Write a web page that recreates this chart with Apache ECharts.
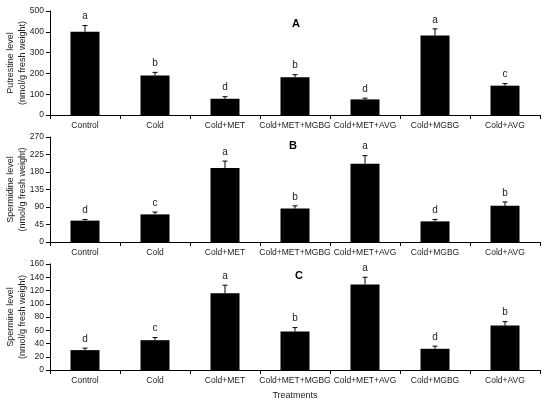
<!DOCTYPE html>
<html>
<head>
<meta charset="utf-8">
<script src="https://cdn.jsdelivr.net/npm/echarts@6/dist/echarts.min.js"></script>
<style>
html,body{margin:0;padding:0;background:#fff;}
#main{width:550px;height:402px;}
</style>
</head>
<body>
<div id="main"></div>
<script>
const categories = ['Control','Cold','Cold+MET','Cold+MET+MGBG','Cold+MET+AVG','Cold+MGBG','Cold+AVG'];
const putrescine = [400,190,78,181,75,382,141];
const putrescineErr = [30,15,10,13,6,32,10];
const putrescineLetters = ['a','b','d','b','d','a','c'];
const spermidine = [55,71,190,86,201,53,93];
const spermidineErr = [3,6,18,7,21,5,10];
const spermidineLetters = ['d','c','a','b','a','d','b'];
const spermine = [30,45,116,58,129,32,67];
const spermineErr = [3,4,12,6,11,4,6];
const spermineLetters = ['d','c','a','b','a','d','b'];
const yTicksA = {max:500, interval:100};
const yTicksB = {max:270, interval:45};
const yTicksC = {max:160, interval:20};

const FONT = '"Liberation Sans", Arial, sans-serif';
const TXT = '#222';

const panels = [
  {vals:putrescine, errs:putrescineErr, letters:putrescineLetters, y:yTicksA, name:'Putrestine level\n(nmol/g fresh weight)', top:11, height:104, tag:'A', tagPos:[292,18]},
  {vals:spermidine, errs:spermidineErr, letters:spermidineLetters, y:yTicksB, name:'Spermidine level\n(nmol/g fresh weight)', top:137, height:105, tag:'B', tagPos:[289,140]},
  {vals:spermine, errs:spermineErr, letters:spermineLetters, y:yTicksC, name:'Spermine level\n(nmol/g fresh weight)', top:264, height:106, tag:'C', tagPos:[295,270]}
];

const grid = [], xAxis = [], yAxis = [], series = [], title = [];
panels.forEach((p, k) => {
  grid.push({left:50, right:10, top:p.top, height:p.height, containLabel:false, outerBoundsMode:'none'});
  xAxis.push({
    type:'category', gridIndex:k, data:categories,
    axisLine:{lineStyle:{color:'#000', width:1}},
    axisTick:{show:true, length:4, inside:false, alignWithLabel:false, lineStyle:{color:'#000'}},
    axisLabel:{fontFamily:FONT, fontSize:8.5, color:TXT, margin:6, interval:0},
    name: k === 2 ? 'Treatments' : '',
    nameLocation:'middle', nameGap:21, nameMoveOverlap:false,
    nameTextStyle:{fontFamily:FONT, fontSize:9, color:TXT}
  });
  yAxis.push({
    type:'value', gridIndex:k, min:0, max:p.y.max, interval:p.y.interval,
    splitLine:{show:false},
    axisLine:{show:true, lineStyle:{color:'#000', width:1}},
    axisTick:{show:true, length:4, inside:false, lineStyle:{color:'#000'}},
    axisLabel:{fontFamily:FONT, fontSize:8.5, color:TXT, margin:6},
    name:p.name, nameLocation:'middle', nameGap:21, nameRotate:90, nameMoveOverlap:false,
    nameTextStyle:{fontFamily:FONT, fontSize:9, color:TXT, lineHeight:12, align:'center'}
  });
  series.push({
    type:'bar', xAxisIndex:k, yAxisIndex:k, data:p.vals,
    barWidth:29, itemStyle:{color:'#000'}, silent:true
  });
  const errs = p.errs, letters = p.letters;
  series.push({
    type:'custom', xAxisIndex:k, yAxisIndex:k, silent:true, z:5,
    data: p.vals.map((v,i)=>[i, v]),
    encode:{x:0, y:1},
    renderItem:function(params, api){
      const i = api.value(0), v = api.value(1);
      const e = errs[params.dataIndex];
      const base = api.coord([i, v]);
      const topP = api.coord([i, v + e]);
      return {
        type:'group',
        children:[
          {type:'line', shape:{x1:base[0], y1:base[1], x2:topP[0], y2:topP[1]}, style:{stroke:'#000', lineWidth:1}},
          {type:'line', shape:{x1:topP[0]-2.5, y1:topP[1], x2:topP[0]+2.5, y2:topP[1]}, style:{stroke:'#000', lineWidth:1}},
          {type:'text', x:topP[0], y:topP[1]-4, style:{text:letters[params.dataIndex], fontFamily:FONT, fontSize:10, fill:TXT, align:'center', verticalAlign:'bottom'}}
        ]
      };
    }
  });
  title.push({text:p.tag, left:p.tagPos[0], top:p.tagPos[1], padding:0, textStyle:{fontFamily:FONT, fontSize:11, fontWeight:'bold', color:'#000'}});
});

const chart = echarts.init(document.getElementById('main'), null, {renderer:'canvas'});
chart.setOption({animation:false, backgroundColor:'#fff', title, grid, xAxis, yAxis, series});
</script>
</body>
</html>
